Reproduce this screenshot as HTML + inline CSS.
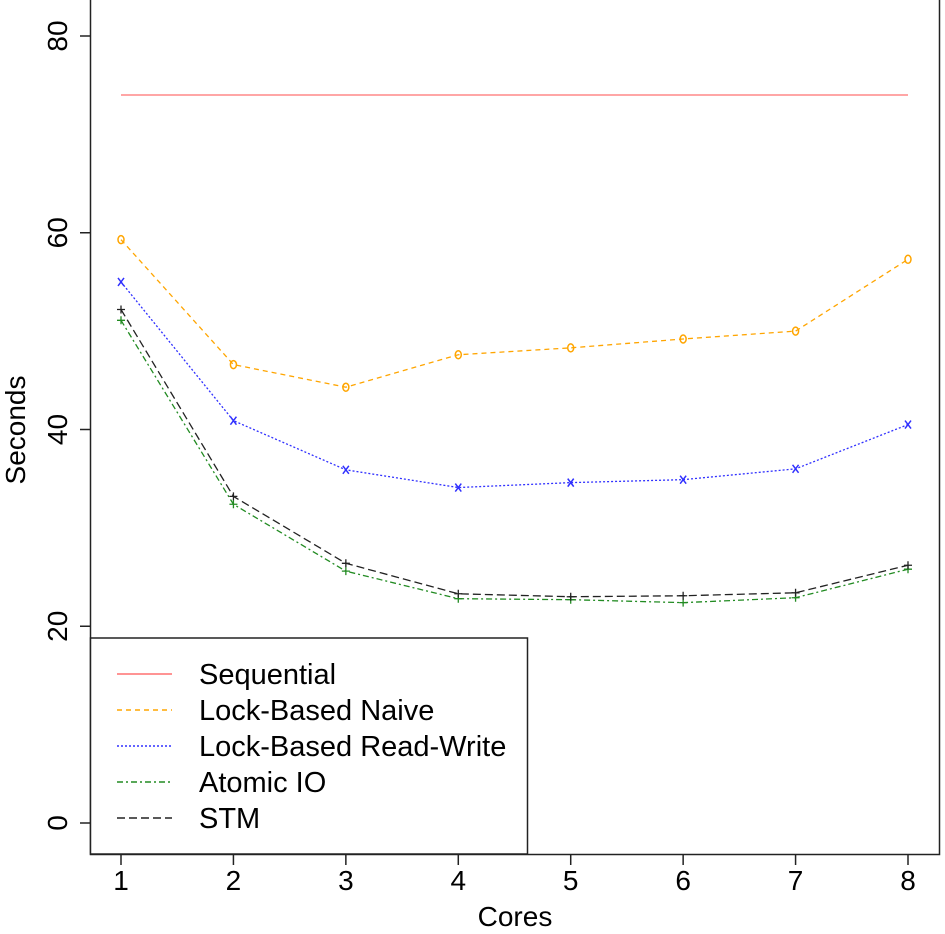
<!DOCTYPE html>
<html><head><meta charset="utf-8"><style>
body{margin:0;background:#fff}
svg{display:block;font-family:"Liberation Sans",sans-serif}
</style></head><body>
<svg id="c" width="945" height="934"></svg>
<script>
const cores=[1,2,3,4,5,6,7,8];
const sequential=[74,74,74,74,74,74,74,74];
const naive=[59.3,46.6,44.3,47.6,48.3,49.2,50.0,57.3];
const readWrite=[55.0,40.9,35.9,34.1,34.6,34.9,36.0,40.5];
const atomicIO=[51.1,32.4,25.6,22.8,22.7,22.4,22.9,25.8];
const stm=[52.2,33.2,26.4,23.3,23.0,23.1,23.4,26.2];
const yTicks=[0,20,40,60,80];
const seriesNames=["Sequential","Lock-Based Naive","Lock-Based Read-Write","Atomic IO","STM"];
const NS="http://www.w3.org/2000/svg";
const svg=document.getElementById('c');
const X=v=>121+(v-1)*(908-121)/7;
const Y=v=>823-v*(823-36)/80;
function mk(t,a,p){const e=document.createElementNS(NS,t);for(const k in a)e.setAttribute(k,a[k]);(p||svg).appendChild(e);return e;}
let e=mk('rect',{x:90.5,y:-1,width:849,height:855.5,fill:'none',stroke:'#222','stroke-width':1.5});

yTicks.forEach(v=>{
 let l=mk('line',{x1:80,x2:90,y1:Y(v),y2:Y(v),stroke:'#222','stroke-width':1.5});
 
 let t=mk('text',{x:0,y:0,transform:`translate(67,${Y(v)}) rotate(-90)`,'text-anchor':'middle','font-size':28});
 t.textContent=v;
});
cores.forEach(v=>{
 let l=mk('line',{x1:X(v),x2:X(v),y1:855,y2:865,stroke:'#222','stroke-width':1.5});
 
 let t=mk('text',{x:X(v),y:890,'text-anchor':'middle','font-size':28});
 t.textContent=v;
});
let xt=mk('text',{x:515,y:926,'text-anchor':'middle','font-size':28});xt.textContent='Cores';

let yt=mk('text',{x:0,y:0,transform:'translate(25,430) rotate(-90)','text-anchor':'middle','font-size':28});yt.textContent='Seconds';

const styles=[
 {c:'#ff7070',d:'',m:''},
 {c:'#ffa500',d:'5,4',m:'o'},
 {c:'#3030ff',d:'2,2',m:'x'},
 {c:'#228b22',d:'6,3,2,3',m:'+'},
 {c:'#222',d:'8,4',m:'+'}];
const all=[sequential,naive,readWrite,atomicIO,stm];
all.forEach((s,i)=>{
 const st=styles[i];
 let p=mk('polyline',{points:s.map((v,j)=>X(cores[j])+','+Y(v)).join(' '),fill:'none',stroke:st.c,'stroke-width':1.3,'stroke-dasharray':st.d});
 
 s.forEach((v,j)=>{
  if(!st.m)return;
  const x=X(cores[j]),y=Y(v);
  let g;
  if(st.m==='o')g=mk('ellipse',{cx:x,cy:y,rx:3,ry:4,fill:'none',stroke:st.c,'stroke-width':1.5});
  else if(st.m==='x')g=mk('path',{d:`M${x-3},${y-4}L${x+3},${y+4}M${x+3},${y-4}L${x-3},${y+4}`,stroke:st.c,'stroke-width':1.5});
  else g=mk('path',{d:`M${x-4},${y}L${x+4},${y}M${x},${y-4}L${x},${y+4}`,stroke:st.c,'stroke-width':1.3});
  
 });
});
let lb=mk('rect',{x:90.5,y:638,width:437,height:216,fill:'#fff',stroke:'#222','stroke-width':1.5});

seriesNames.forEach((n,i)=>{
 const y=674+i*36;const st=styles[i];
 let l=mk('line',{x1:117,x2:172,y1:y,y2:y,stroke:st.c,'stroke-width':1.5,'stroke-dasharray':st.d});
 
 let t=mk('text',{x:199,y:y+10,'font-size':29});t.textContent=n;
 
});
</script>
</body></html>
